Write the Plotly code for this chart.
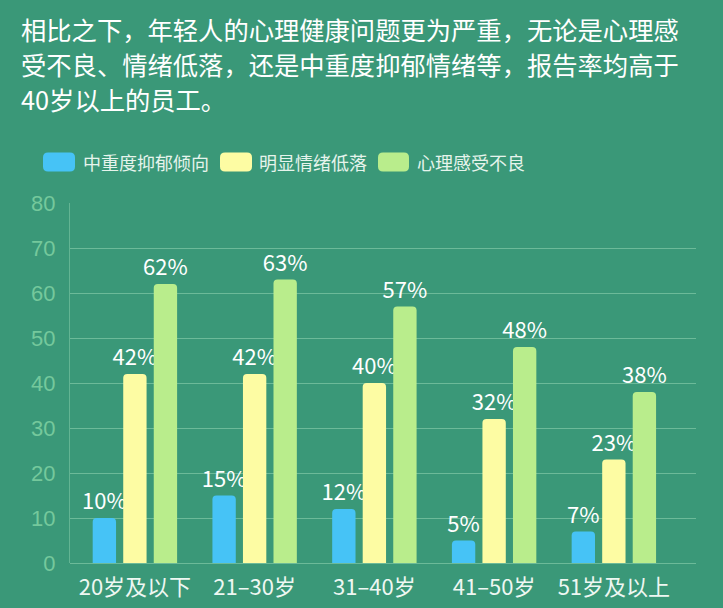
import plotly.graph_objects as go

categories = ["20岁及以下", "21–30岁", "31–40岁", "41–50岁", "51岁及以上"]
series_names = ["中重度抑郁倾向", "明显情绪低落", "心理感受不良"]
depression = [10, 15, 12, 5, 7]
low_mood = [42, 42, 40, 32, 23]
poor_feeling = [62, 63, 57, 48, 38]
y_ticks = [0, 10, 20, 30, 40, 50, 60, 70, 80]
title_lines = [
    "相比之下，年轻人的心理健康问题更为严重，无论是心理感",
    "受不良、情绪低落，还是中重度抑郁情绪等，报告率均高于",
    "40岁以上的员工。",
]

W, H = 723, 608
ML, MR, MT, MB = 70, 27, 203, 45
PW, PH = W - ML - MR, H - MT - MB

BG = "#3a9878"
COLORS = ["#46c3f6", "#fdfca3", "#b9ed8c"]
FONT = "Noto Sans CJK SC"


def px_x(x):
    return (x - ML) / PW


def px_y(y):
    return (H - MB - y) / PH


fig = go.Figure()
values = [depression, low_mood, poor_feeling]
offsets = [-0.3525, -0.0975, 0.1575]
for name, vals, col, off in zip(series_names, values, COLORS, offsets):
    fig.add_trace(go.Bar(
        x=categories, y=vals, name=name,
        marker=dict(color=col, line=dict(width=0), cornerradius=4),
        width=0.195, offset=off,
        text=[f"{v}%" for v in vals], textposition="outside",
        textfont=dict(color="white", size=22, family=FONT),
        constraintext="none", cliponaxis=False, showlegend=False,
        hoverinfo="skip",
    ))

# title lines
for i, line in enumerate(title_lines):
    fig.add_annotation(
        x=px_x(19), y=px_y(29 + 35 * i), xref="paper", yref="paper",
        text=line, showarrow=False, xanchor="left", yanchor="middle",
        font=dict(color="white", size=25.3, family=FONT),
    )

# custom legend
legend_items = [(43, 75, 81), (220, 252, 257), (378, 409, 415)]
yc = 162
for (x0, x1, tx), name, col in zip(legend_items, series_names, COLORS):
    y0, y1 = yc - 9.5, yc + 9.5
    r = 5
    pts = [
        ("M", x0 + r, y0), ("L", x1 - r, y0), ("Q", x1, y0, x1, y0 + r),
        ("L", x1, y1 - r), ("Q", x1, y1, x1 - r, y1), ("L", x0 + r, y1),
        ("Q", x0, y1, x0, y1 - r), ("L", x0, y0 + r), ("Q", x0, y0, x0 + r, y0),
    ]
    path = ""
    for p in pts:
        cmd = p[0]
        coords = p[1:]
        s = []
        for j in range(0, len(coords), 2):
            s.append(f"{px_x(coords[j]):.5f},{px_y(coords[j + 1]):.5f}")
        path += cmd + " ".join(s) + " "
    path += "Z"
    fig.add_shape(type="path", path=path, xref="paper", yref="paper",
                  fillcolor=col, line=dict(width=0))
    fig.add_annotation(
        x=px_x(tx), y=px_y(yc), xref="paper", yref="paper", text=name,
        showarrow=False, xanchor="left", yanchor="middle",
        font=dict(color="#e6f4ec", size=18, family=FONT),
    )

fig.update_layout(
    width=W, height=H,
    margin=dict(l=ML, r=MR, t=MT, b=MB, autoexpand=False),
    paper_bgcolor=BG, plot_bgcolor=BG,
    barmode="group",
    font=dict(family=FONT),
    xaxis=dict(
        type="category", range=[-0.542, 4.686], showgrid=False, zeroline=False,
        showline=False, ticks="outside", ticklen=5, tickcolor="rgba(0,0,0,0)",
        tickfont=dict(color="#eef7f2", size=22, family=FONT), automargin=False,
    ),
    yaxis=dict(
        range=[0, 80], tickvals=y_ticks, showgrid=True,
        gridcolor="rgba(150,215,180,0.55)", gridwidth=1,
        zeroline=True, zerolinecolor="rgba(150,215,180,0.55)", zerolinewidth=1,
        showline=True, linecolor="rgba(150,215,180,0.45)", linewidth=1,
        ticks="", ticklabelstandoff=9, automargin=False,
        tickfont=dict(color="#75c89c", size=22, family="Liberation Sans"),
    ),
)

fig.write_html("out.html", config={"displayModeBar": False},
               post_script="document.body.style.margin='0';document.body.style.background='%s';" % BG)
